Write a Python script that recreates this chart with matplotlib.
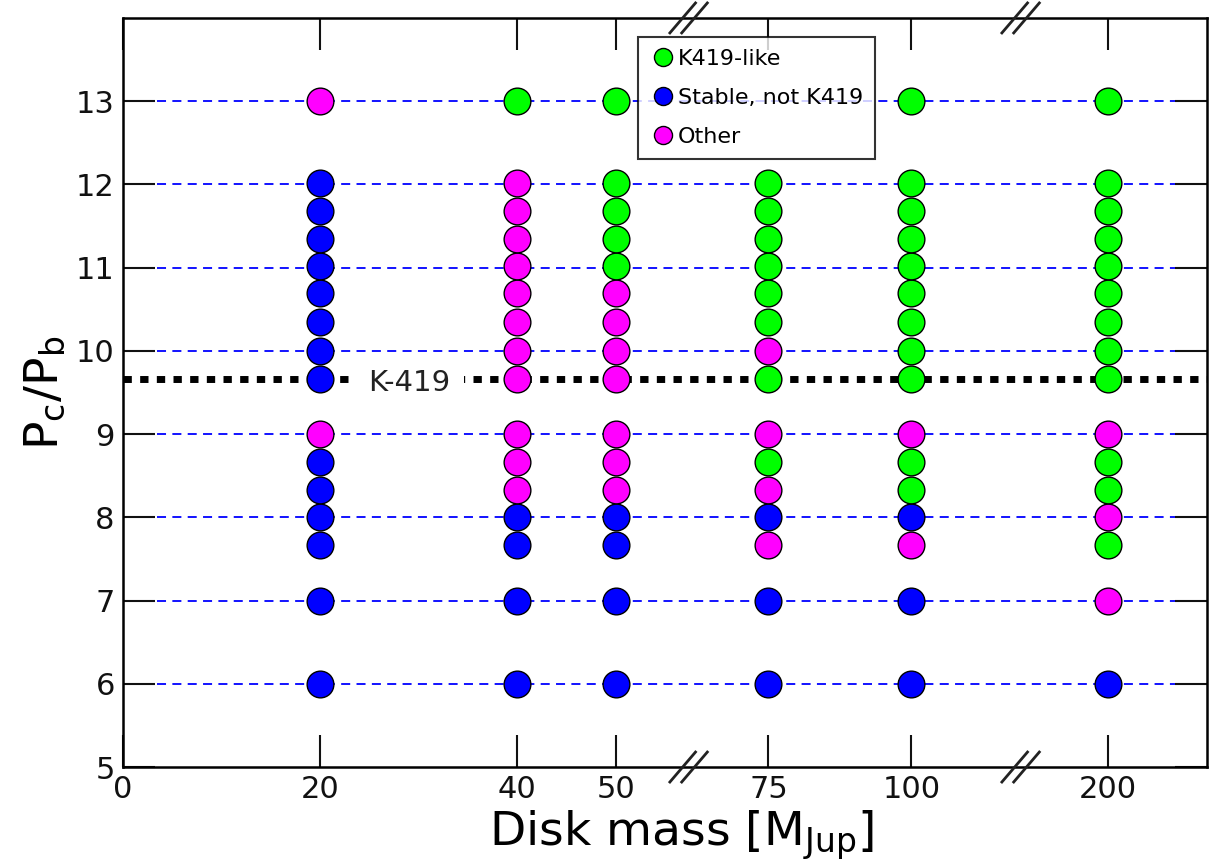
import numpy as np
import matplotlib.pyplot as plt
from matplotlib.lines import Line2D

# disk masses and where each sits on the (broken) x axis
masses = [20, 40, 50, 75, 100, 200]
mass_pos = [20, 40, 50, 65.5, 80, 100]
tick_labels = ['0', '20', '40', '50', '75', '100', '200']
tick_pos = [0] + mass_pos

# period ratios sampled
ratios = [6, 7, 7.67, 8, 8.33, 8.67, 9, 9.66, 10, 10.35, 10.69, 11.02, 11.35, 11.68, 12.02, 13]

# outcome per ratio for each mass: G = K419-like, B = stable not K419, M = other, '-' = none
outcome = {
    20:  ['B', 'B', 'B', 'B', 'B', 'B', 'M', 'B', 'B', 'B', 'B', 'B', 'B', 'B', 'B', 'M'],
    40:  ['B', 'B', 'B', 'B', 'M', 'M', 'M', 'M', 'M', 'M', 'M', 'M', 'M', 'M', 'M', 'G'],
    50:  ['B', 'B', 'B', 'B', 'M', 'M', 'M', 'M', 'M', 'M', 'M', 'G', 'G', 'G', 'G', 'G'],
    75:  ['B', 'B', 'M', 'B', 'M', 'G', 'M', 'G', 'M', 'G', 'G', 'G', 'G', 'G', 'G', '-'],
    100: ['B', 'B', 'M', 'B', 'G', 'G', 'M', 'G', 'G', 'G', 'G', 'G', 'G', 'G', 'G', 'G'],
    200: ['B', 'M', 'G', 'M', 'G', 'G', 'M', 'G', 'G', 'G', 'G', 'G', 'G', 'G', 'G', 'G'],
}
k419 = 9.66

colors = {'G': '#00ff00', 'B': '#0000ff', 'M': '#ff00ff'}

fig = plt.figure(figsize=(12.19, 8.67), dpi=100)
ax = fig.add_axes([0.101, 0.1153, 0.889, 0.864])
ax.set_xlim(0, 110)
ax.set_ylim(5, 14)

# dashed guides at integer ratios
for y in range(6, 14):
    ax.plot([3.4, 107.5], [y, y], ls=(0, (5, 3.5)), color='blue', lw=1.3, zorder=1)

# observed K-419 ratio
ax.axhline(k419, color='black', lw=5, ls=(0, (1.2, 1.2)), zorder=2)
ax.text(29.0, k419 - 0.05, 'K-419', fontsize=21, color='#222222', ha='center', va='center',
        zorder=3, bbox=dict(facecolor='white', edgecolor='none', pad=10))

for m, xp in zip(masses, mass_pos):
    for r, o in zip(ratios, outcome[m]):
        if o == '-':
            continue
        ax.scatter(xp, r, s=370, color=colors[o], edgecolors='black', linewidths=1, zorder=4)

ax.set_xticks(tick_pos)
ax.set_xticklabels(tick_labels)
ax.set_yticks(range(5, 14))
ax.tick_params(direction='in', length=23, width=1.5, top=True, right=True,
               labelsize=22, pad=6, colors='#111111')
for sp in ax.spines.values():
    sp.set_linewidth(1.8)

ax.set_xlabel('Disk mass [M$_{\\rm Jup}$]', fontsize=34)
ax.xaxis.set_label_coords(0.515, -0.055)
ax.set_ylabel('P$_{\\rm c}$/P$_{\\rm b}$', fontsize=34, labelpad=6)

# axis break marks on top and bottom spines
for xb in [57.4, 91.1]:
    for yb in [0, 1]:
        for dx in [-0.6, 0.6]:
            ax.plot([xb + dx - 1.3, xb + dx + 1.3], [yb - 0.02, yb + 0.02],
                    transform=ax.get_xaxis_transform(), color='#222222',
                    lw=2, clip_on=False, zorder=6)

handles = [Line2D([], [], ls='none', marker='o', markersize=13, markerfacecolor=colors[k],
                  markeredgecolor='black', label=l)
           for k, l in [('G', 'K419-like'), ('B', 'Stable, not K419'), ('M', 'Other')]]
leg = ax.legend(handles=handles, loc='upper left', bbox_to_anchor=(0.475, 0.975),
                fontsize=16, frameon=True, fancybox=False, handletextpad=0.05,
                borderpad=0.55, labelspacing=0.85, handlelength=1.2, borderaxespad=0)
leg.get_frame().set_edgecolor('black')
leg.get_frame().set_linewidth(1.5)
leg.set_zorder(7)

fig.savefig('out.png', dpi=100)
